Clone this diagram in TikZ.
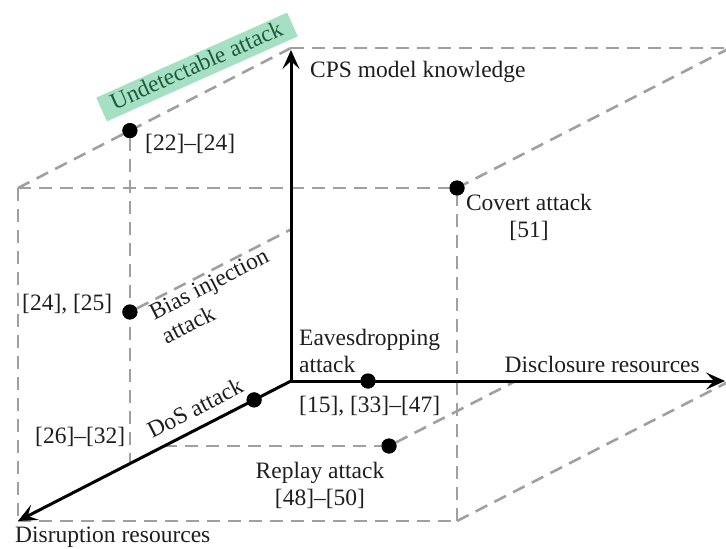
\documentclass[tikz,border=0pt]{standalone}
\usepackage{fontspec}
\setmainfont{Liberation Serif}
\usetikzlibrary{arrows.meta}
\definecolor{edgegray}{RGB}{160,160,160}
\definecolor{mint}{RGB}{166,224,196}
\definecolor{deepgreen}{RGB}{30,90,60}
\definecolor{ink}{RGB}{30,30,30}

\begin{document}
\begin{tikzpicture}[x=1pt,y=-1pt,
  cubeedge/.style={draw=edgegray, line width=2.6pt, dash pattern=on 13pt off 8pt},
  axisline/.style={draw=black, line width=3pt, -{Stealth[length=19pt,width=17pt,inset=8pt]}},
  dot/.style={circle, fill=black, inner sep=0pt, minimum size=15pt},
  lbl/.style={inner sep=0pt, text=ink, font=\fontsize{23.5pt}{27pt}\selectfont},
]
\useasboundingbox (0,0) rectangle (726,549);
\clip (0,0) rectangle (726,549);

% cube corners (oblique projection)
\coordinate (O)   at (291,381);
\coordinate (BTL) at (291,48);
\coordinate (BTR) at (730,48);
\coordinate (BBR) at (730,381);
\coordinate (FTL) at (18,188);
\coordinate (FTR) at (457,188);
\coordinate (FBL) at (18,521);
\coordinate (FBR) at (457,521);
% axis ends
\coordinate (Ztip) at (291,50);
\coordinate (Xtip) at (725,381);
% points on the guide lines
\coordinate (Ua) at (129.9,463.6);
\coordinate (Bz) at (291,229.4);
\coordinate (Ra) at (164.3,446);
\coordinate (Rx) at (515.7,381);

% attack points
\node[dot] (U) at (129.9,130.6) {};
\node[dot] (B) at (129.9,312) {};
\node[dot] (D) at (254.1,399.9) {};
\node[dot] (E) at (368,381) {};
\node[dot] (R) at (389,446) {};
\node[dot] (C) at (FTR) {};

% dashed cube edges
\draw[cubeedge] (BTL) -- (BTR);
\draw[cubeedge] (BTR) -- (FTR);
\draw[cubeedge] (BTL) -- (FTL);
\draw[cubeedge] (FTL) -- (FTR);
\draw[cubeedge] (FTL) -- (FBL);
\draw[cubeedge] (FBL) -- (FBR);
\draw[cubeedge] (FBR) -- (FTR);
\draw[cubeedge] (FBR) -- (BBR);
% dashed guides
\draw[cubeedge] (U) -- (Ua);
\draw[cubeedge] (B) -- (Bz);
\draw[cubeedge] (Ra) -- (R);
\draw[cubeedge] (R) -- (Rx);

% axes
\draw[axisline] (O) -- (Ztip);
\draw[axisline] (O) -- (Xtip);
\draw[axisline] (O) -- (FBL);

% dots on top of the lines
\foreach \p in {U,B,D,E,R,C} \fill (\p) circle (7.5pt);

% axis labels
\node[lbl, anchor=base west] (zl) at (310,77) {CPS model knowledge};
\node[lbl, anchor=base east] (xl) at (700,372) {Disclosure resources};
\node[lbl, anchor=base west] (yl) at (15,542) {Disruption resources};

% attack labels
\node[inner xsep=11.5pt, inner ysep=2.5pt, fill=mint, text=deepgreen,
      text height=16.5pt, text depth=4.5pt,
      font=\fontsize{23.5pt}{27pt}\selectfont, rotate=24] (ul) at (197,67) {Undetectable attack};
\node[lbl, anchor=base west] (ur) at (145,150) {[22]--[24]};
\node[lbl, anchor=north, align=center] (cl) at (529,194) {Covert attack\\{}[51]};
\node[lbl, align=left, rotate=27] (bl) at (215,296) {Bias injection\\attack};
\node[lbl, anchor=base west] (br) at (22,310) {[24], [25]};
\node[lbl, rotate=27] (dl) at (195,408) {DoS attack};
\node[lbl, anchor=base west] (dr) at (35,443) {[26]--[32]};
\node[lbl, anchor=north west, align=left] (el) at (299,329) {Eavesdropping\\attack};
\node[lbl, anchor=base west] (er) at (299,412) {[15], [33]--[47]};
\node[lbl, anchor=north, align=center] (rl) at (320,462) {Replay attack\\{}[48]--[50]};
\end{tikzpicture}
\end{document}
